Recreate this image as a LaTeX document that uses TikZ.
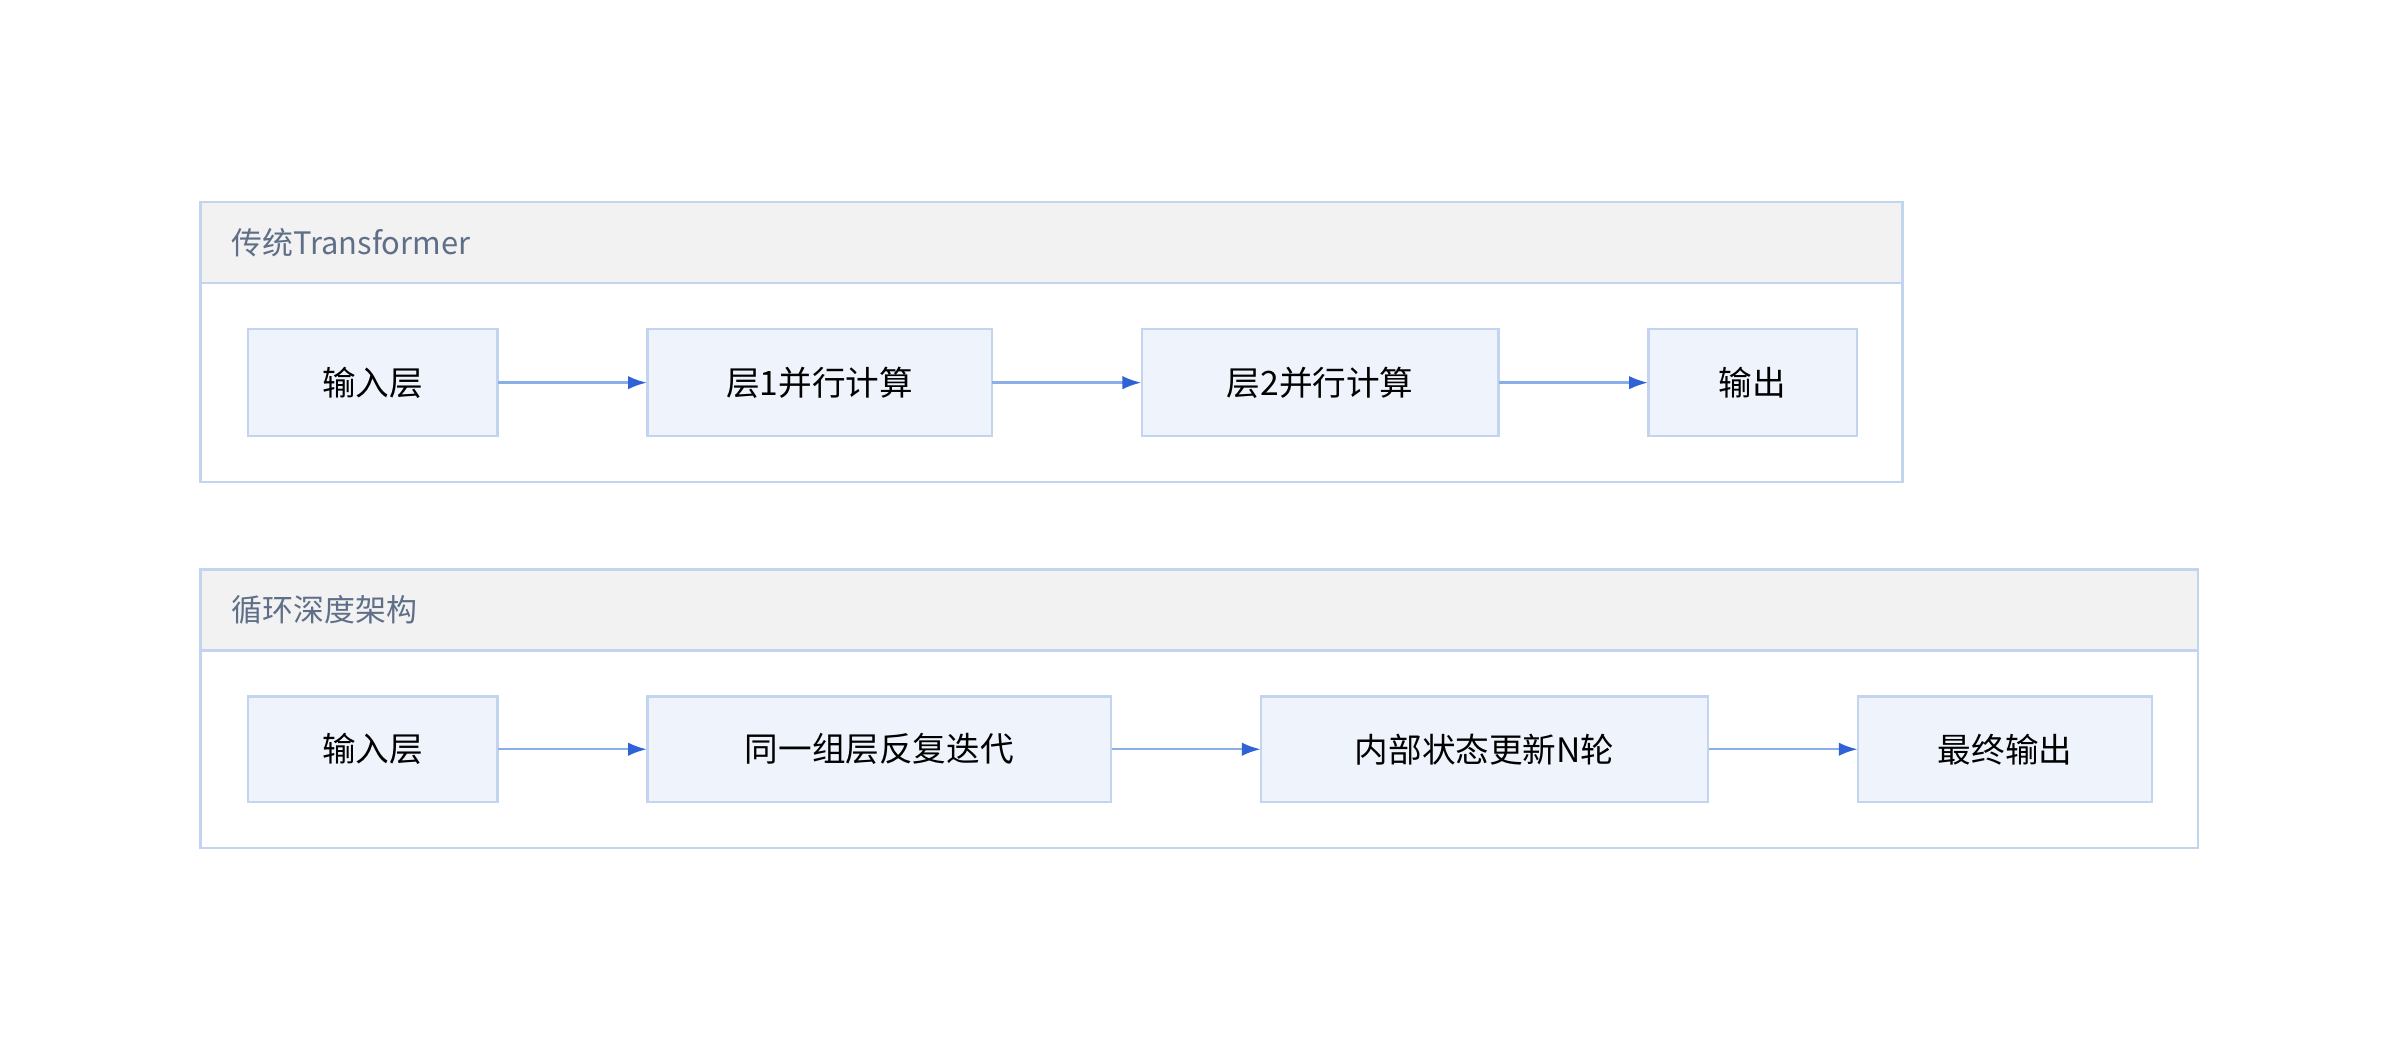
\documentclass[tikz,border=0pt]{standalone}
\usepackage{fontspec}
\setmainfont{Noto Sans CJK SC}
\usetikzlibrary{arrows.meta}
\definecolor{nfill}{HTML}{EFF4FC}
\definecolor{nline}{HTML}{C3D4F0}
\definecolor{hfill}{HTML}{F2F2F2}
\definecolor{htext}{HTML}{5F6F88}
\definecolor{aline}{HTML}{8AAEE8}
\definecolor{ahead}{HTML}{2F62D6}
\begin{document}
\begin{tikzpicture}[x=0.02cm,y=-0.02cm,
  box/.style={draw=nline,fill=nfill,line width=0.8pt,font=\fontsize{12.5}{14}\selectfont,text=black!85},
  grp/.style={draw=nline,line width=0.9pt},
  hdr/.style={draw=nline,fill=hfill,line width=0.9pt},
  htx/.style={anchor=west,text=htext,font=\fontsize{11.5}{13}\selectfont},
  arr/.style={draw=aline,line width=0.9pt,-{Latex[length=7pt,width=5pt,color=ahead]}}]
\useasboundingbox (0,0) rectangle (1568,687);
% group 1
\draw[hdr] (131,132) rectangle (1243,185);
\draw[grp] (131,185) rectangle (1243,315);
\node[htx] (g1) at (145,158.5) {传统Transformer};
\path[box] (162,215) rectangle (325,285); \node (a1) [inner sep=0,minimum width=163*0.02cm,minimum height=70*0.02cm,font=\fontsize{12.5}{14}\selectfont] at (243.5,250) {输入层};
\path[box] (423,215) rectangle (648,285); \node (a2) [inner sep=0,minimum width=225*0.02cm,minimum height=70*0.02cm,font=\fontsize{12.5}{14}\selectfont] at (535.5,250) {层1并行计算};
\path[box] (746,215) rectangle (979,285); \node (a3) [inner sep=0,minimum width=233*0.02cm,minimum height=70*0.02cm,font=\fontsize{12.5}{14}\selectfont] at (862.5,250) {层2并行计算};
\path[box] (1077,215) rectangle (1213,285); \node (a4) [inner sep=0,minimum width=136*0.02cm,minimum height=70*0.02cm,font=\fontsize{12.5}{14}\selectfont] at (1145,250) {输出};
\draw[arr] (a1) -- (a2); \draw[arr] (a2) -- (a3); \draw[arr] (a3) -- (a4);
% group 2
\draw[hdr] (131,372) rectangle (1436,425);
\draw[grp] (131,425) rectangle (1436,554);
\node[htx] (g2) at (145,398.5) {循环深度架构};
\path[box] (162,455) rectangle (325,524); \node (b1) [inner sep=0,minimum width=163*0.02cm,minimum height=69*0.02cm,font=\fontsize{12.5}{14}\selectfont] at (243.5,489.5) {输入层};
\path[box] (423,455) rectangle (726,524); \node (b2) [inner sep=0,minimum width=303*0.02cm,minimum height=69*0.02cm,font=\fontsize{12.5}{14}\selectfont] at (574.5,489.5) {同一组层反复迭代};
\path[box] (824,455) rectangle (1116,524); \node (b3) [inner sep=0,minimum width=292*0.02cm,minimum height=69*0.02cm,font=\fontsize{12.5}{14}\selectfont] at (970,489.5) {内部状态更新N轮};
\path[box] (1214,455) rectangle (1406,524); \node (b4) [inner sep=0,minimum width=192*0.02cm,minimum height=69*0.02cm,font=\fontsize{12.5}{14}\selectfont] at (1310,489.5) {最终输出};
\draw[arr] (b1) -- (b2); \draw[arr] (b2) -- (b3); \draw[arr] (b3) -- (b4);
\end{tikzpicture}
\end{document}
